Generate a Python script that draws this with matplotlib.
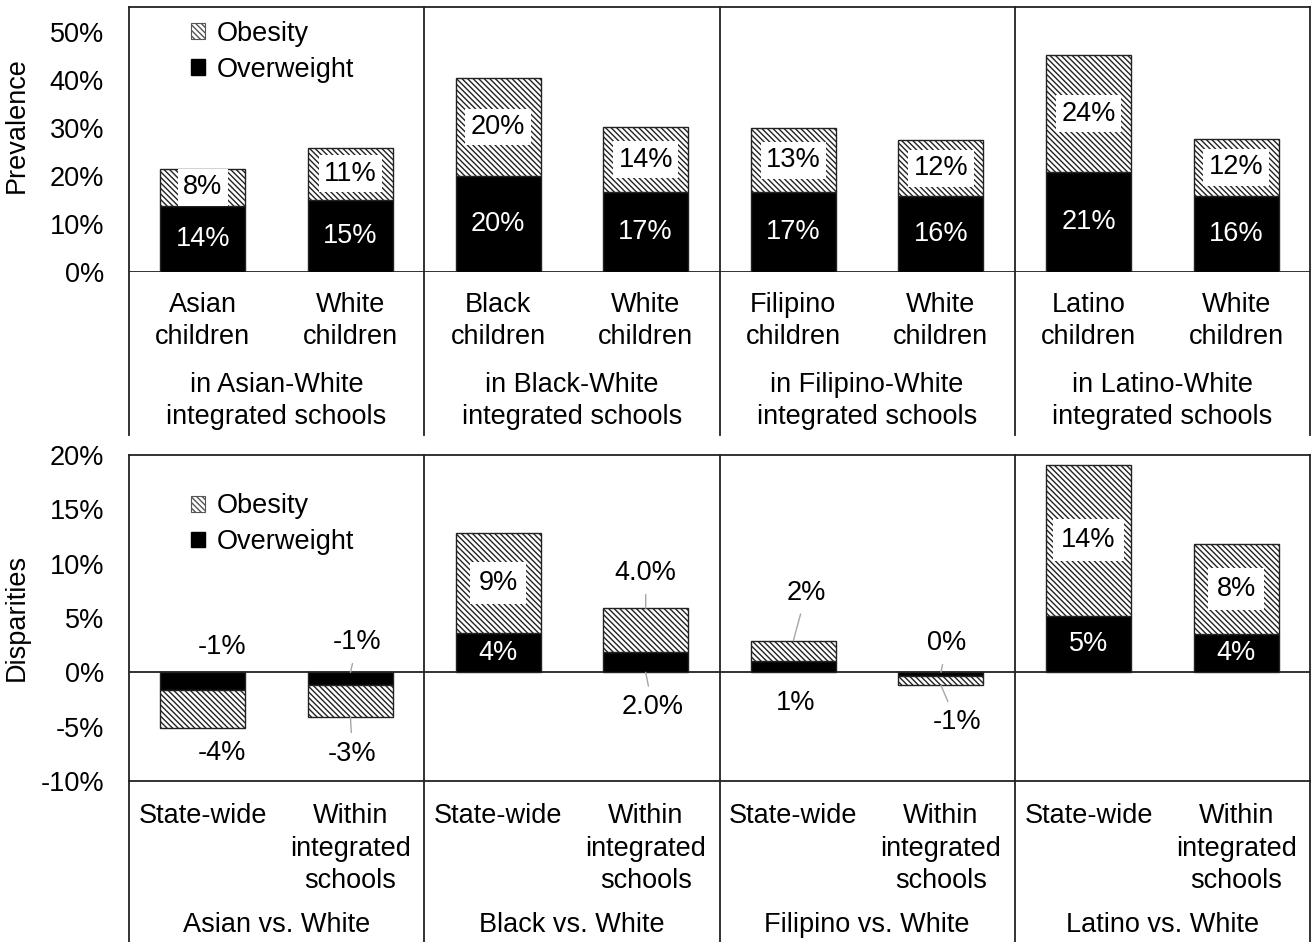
"""儿童超重/肥胖患病率及族群差异：双面板堆叠柱状图。"""

import numpy as np
import matplotlib.pyplot as plt
from matplotlib.patches import Patch
from matplotlib.ticker import PercentFormatter

plt.rcParams["font.family"] = ["Liberation Sans", "DejaVu Sans"]
plt.rcParams["font.size"] = 19.5
plt.rcParams["axes.unicode_minus"] = False
plt.rcParams["hatch.linewidth"] = 1.0

# 上图：各组儿童的患病率 (%)
PREV_CATS = ["Asian\nchildren", "White\nchildren", "Black\nchildren", "White\nchildren",
             "Filipino\nchildren", "White\nchildren", "Latino\nchildren", "White\nchildren"]
PREV_GROUPS = ["in Asian-White\nintegrated schools", "in Black-White\nintegrated schools",
               "in Filipino-White\nintegrated schools", "in Latino-White\nintegrated schools"]
PREV_OVER = [13.8, 15.0, 20.0, 16.6, 16.7, 15.8, 20.8, 15.9]
PREV_OBES = [7.7, 10.9, 20.4, 13.6, 13.2, 11.6, 24.3, 11.9]

# 下图：与白人儿童的差异 (百分点)
DISP_CATS = ["State-wide", "Within\nintegrated\nschools"] * 4
DISP_GROUPS = ["Asian vs. White", "Black vs. White", "Filipino vs. White", "Latino vs. White"]
DISP_OVER = [-1.6, -1.2, 3.6, 1.9, 1.0, -0.35, 5.2, 3.5]
DISP_OBES = [-3.5, -2.9, 9.2, 4.0, 1.9, -0.85, 13.9, 8.3]
DISP_OVER_LAB = ["-1%", "-1%", "4%", "2.0%", "1%", "0%", "5%", "4%"]
DISP_OBES_LAB = ["-4%", "-3%", "9%", "4.0%", "2%", "-1%", "14%", "8%"]

# 下图标签位置：None = 柱内居中；否则 (dx, dy 像素, 是否画引线)
OVER_POS = [(19, 25, False), (7, 30, True), None, (7, -35, True),
            (2, -31, False), (6, 29, True), None, None]
OBES_POS = [(19, -25, False), (2, -37, True), None, (0, 35, True),
            (13, 48, True), (16, -37, True), None, None]

W, H = 1314, 942
HATCH = "\\\\\\\\\\\\"
LINE = "#222222"
BAR_W = 0.576


def frame(ax, y_low, bottom_line=False):
    """画 Excel 风格的分组边框"""
    n = len(PREV_CATS)
    tr = ax.get_xaxis_transform()
    for xb in np.arange(-0.5, n + 0.5, 2):
        ax.plot([xb, xb], [1, y_low], transform=tr, color=LINE, lw=1.3, clip_on=False)
    ax.plot([-0.5, n - 0.5], [1, 1], transform=tr, color=LINE, lw=1.3, clip_on=False)
    if bottom_line:
        ax.plot([-0.5, n - 0.5], [0, 0], transform=tr, color=LINE, lw=1.3, clip_on=False)
    ax.axhline(0, color=LINE, lw=1.3)
    for s in ax.spines.values():
        s.set_visible(False)
    ax.set_xlim(-0.5, n - 0.5)
    ax.set_xticks([])
    ax.tick_params(axis="y", length=0, pad=18)
    ax.yaxis.set_major_formatter(PercentFormatter(xmax=100, decimals=0))


def stacked(ax, over, obes):
    x = np.arange(len(over))
    b_over = ax.bar(x, over, BAR_W, color="black", edgecolor=LINE, lw=1.0, zorder=2)
    b_obes = ax.bar(x, obes, BAR_W, bottom=over, color="white", edgecolor=LINE,
                    lw=1.0, hatch=HATCH, zorder=2)
    return x, b_over, b_obes


def legend(ax, y_anchor):
    handles = [Patch(facecolor="white", edgecolor="#555555", hatch=HATCH, lw=0.8),
               Patch(facecolor="black", edgecolor="black")]
    ax.legend(handles, ["Obesity", "Overweight"], loc="upper left",
              bbox_to_anchor=(0.0525, y_anchor), frameon=False, borderpad=0,
              borderaxespad=0, handlelength=0.5, handleheight=0.5,
              handletextpad=0.45, labelspacing=0.36)


def cat_labels(ax, cats, groups, cat_dy, grp_dy, cat_va):
    for i, c in enumerate(cats):
        ax.annotate(c, xy=(i, 0), xycoords=("data", "axes fraction"),
                    xytext=(0, cat_dy), textcoords="offset pixels",
                    ha="center", va=cat_va, linespacing=1.33)
    for g, name in enumerate(groups):
        ax.annotate(name, xy=(2 * g + 0.5, 0), xycoords=("data", "axes fraction"),
                    xytext=(0, grp_dy), textcoords="offset pixels",
                    ha="center", va="center", linespacing=1.33)


fig = plt.figure(figsize=(W / 100, H / 100), dpi=100)
left = 129 / W
width = (1310 - 129) / W
ax1 = fig.add_axes([left, 1 - 272 / H, width, 265 / H])
ax2 = fig.add_axes([left, 1 - 781 / H, width, 326 / H])

# ---- 上图 ----
ax1.set_ylim(0, 55.2)
ax1.set_yticks(np.arange(0, 51, 10))
frame(ax1, (272 - 435) / 265)
x, _, _ = stacked(ax1, PREV_OVER, PREV_OBES)
box = dict(boxstyle="square,pad=0.2", fc="white", ec="none")
for i in x:
    ax1.text(i, PREV_OVER[i] / 2, f"{PREV_OVER[i]:.0f}%", ha="center", va="center",
             color="white", zorder=3)
    ax1.text(i, PREV_OVER[i] + PREV_OBES[i] / 2, f"{PREV_OBES[i]:.0f}%", ha="center",
             va="center", color="black", bbox=box, zorder=3)
legend(ax1, 0.948)
ax1.set_ylabel("Prevalence")
ax1.yaxis.set_label_coords(-0.084, 0.555)
cat_labels(ax1, PREV_CATS, PREV_GROUPS, -49, -129, "center")

# ---- 下图 ----
ax2.set_ylim(-10, 20)
ax2.set_yticks(np.arange(-10, 21, 5))
frame(ax2, (781 - 942) / 326, bottom_line=True)
x, _, _ = stacked(ax2, DISP_OVER, DISP_OBES)
box2 = dict(boxstyle="square,pad=0.3", fc="white", ec="none")
for i in x:
    ow, ob = DISP_OVER[i], DISP_OBES[i]
    # 超重标签
    if OVER_POS[i] is None:
        ax2.text(i, ow / 2, DISP_OVER_LAB[i], ha="center", va="center", color="white", zorder=3)
    else:
        dx, dy, lead = OVER_POS[i]
        ax2.annotate(DISP_OVER_LAB[i], xy=(i, 0), xytext=(dx, dy), textcoords="offset pixels",
                     ha="center", va="center", zorder=3,
                     arrowprops=dict(arrowstyle="-", color="#a6a6a6", lw=1.0,
                                     shrinkA=4, shrinkB=0) if lead else None)
    # 肥胖标签
    if OBES_POS[i] is None:
        ax2.text(i, ow + ob / 2, DISP_OBES_LAB[i], ha="center", va="center",
                 bbox=box2, zorder=3)
    else:
        dx, dy, lead = OBES_POS[i]
        ax2.annotate(DISP_OBES_LAB[i], xy=(i, ow + ob), xytext=(dx, dy),
                     textcoords="offset pixels", ha="center", va="center", zorder=3,
                     arrowprops=dict(arrowstyle="-", color="#a6a6a6", lw=1.0,
                                     shrinkA=4, shrinkB=0) if lead else None)
legend(ax2, 0.882)
ax2.set_ylabel("Disparities")
ax2.yaxis.set_label_coords(-0.084, 0.503)
cat_labels(ax2, DISP_CATS, DISP_GROUPS, -22, -144, "top")

fig.savefig("out.png", dpi=100)
